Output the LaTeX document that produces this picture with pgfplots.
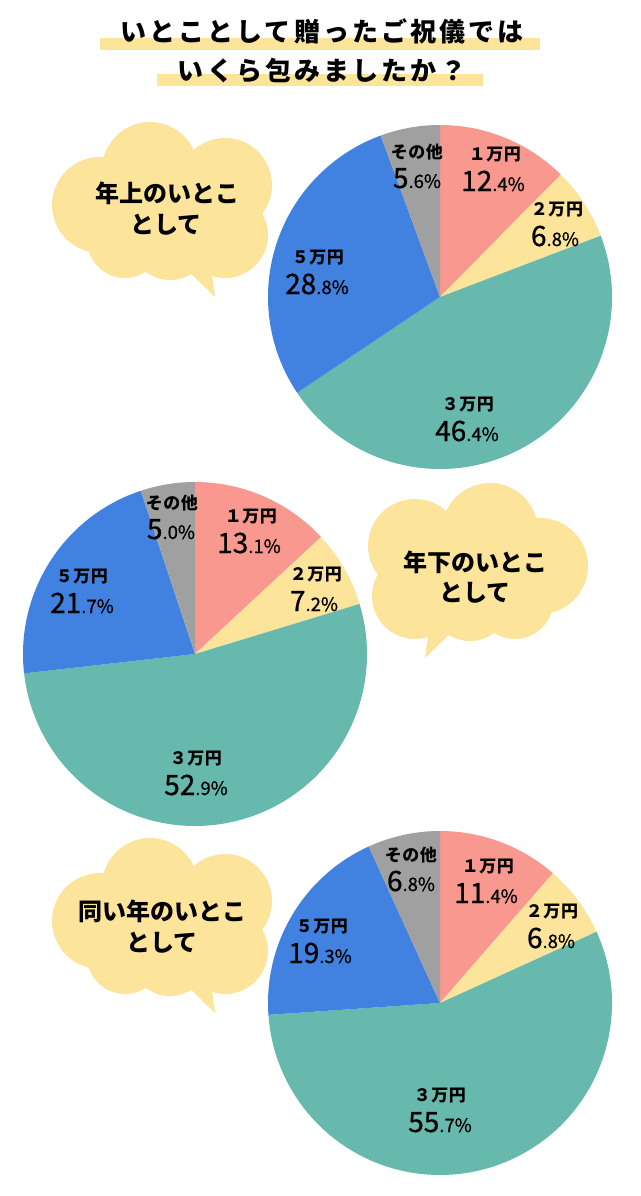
\documentclass[border=0pt]{standalone}
\usepackage{fontspec}
\setmainfont{Noto Sans CJK JP}
\newfontfamily\titlefont[LetterSpace=12]{Noto Sans CJK JP}
\newfontfamily\labfont[LetterSpace=3]{Noto Sans CJK JP}
\newfontfamily\numfont[FakeBold=0.8]{Noto Sans CJK JP}
\usepackage{pgfplots}
\usepackage{pgfplotstable}
\pgfplotsset{compat=1.18}

\definecolor{pc0}{RGB}{248,152,143}% 1万円
\definecolor{pc1}{RGB}{252,229,155}% 2万円
\definecolor{pc2}{RGB}{103,185,174}% 3万円
\definecolor{pc3}{RGB}{65,130,224}%  5万円
\definecolor{pc4}{RGB}{160,160,160}% その他
\definecolor{cloudc}{RGB}{252,229,155}

% shares in order: 1万円, 2万円, 3万円, 5万円, その他
\pgfplotstableread{
yen pct
1 12.4
2 6.8
3 46.4
5 28.8
0 5.6
}\pieA
\pgfplotstableread{
yen pct
1 13.1
2 7.2
3 52.9
5 21.7
0 5.0
}\pieB
\pgfplotstableread{
yen pct
1 11.4
2 6.8
3 55.7
5 19.3
0 6.8
}\pieC

% start/end angles of each wedge, clockwise from 12 o'clock
\newcommand\preppie[2]{%
  \gdef\cum{90}%
  \pgfplotstableforeachcolumnelement{pct}\of#1\as\v{%
    \pgfmathsetmacro\nxt{\cum-3.6*\v}%
    \expandafter\xdef\csname #2s\pgfplotstablerow\endcsname{\cum}%
    \expandafter\xdef\csname #2e\pgfplotstablerow\endcsname{\nxt}%
    \xdef\cum{\nxt}%
  }%
  \expandafter\xdef\csname #2e4\endcsname{-270}%
}
\preppie{\pieA}{A}
\preppie{\pieB}{B}
\preppie{\pieC}{C}

\newcommand\drawpie[3]{%
  \pgfplotsinvokeforeach{0,...,4}{%
    \edef\tmp{\noexpand\fill[pc##1] (axis cs:#2,#3) -- ++(\csname #1s##1\endcsname:172pt)
      arc[start angle=\csname #1s##1\endcsname, end angle=\csname #1e##1\endcsname, radius=172pt] -- cycle;}\tmp
  }%
}

% x y name valuex int dec
\newcommand\lab[6]{%
  \node[font=\labfont\bfseries\fontsize{17}{17}\selectfont] at (axis cs:#1,#2) {#3};
  \node[anchor=base, inner sep=0pt, font=\numfont\fontsize{28}{28}\selectfont] at (axis cs:#4,{#2+36})
    {#5{\fontsize{18.5}{18.5}\selectfont #6\%}};
}

% cloud centred at (#1,#2), #3 = 1 or -1 (mirror)
\newcommand\cloud[3]{%
  \fill[cloudc] (axis cs:{#1+#3*(-12)},{#2-40}) circle[radius=48pt];
  \fill[cloudc] (axis cs:{#1+#3*63},{#2-25}) circle[radius=47pt];
  \fill[cloudc] (axis cs:{#1+#3*(-62)},{#2-5}) circle[radius=48pt];
  \fill[cloudc] (axis cs:{#1+#3*(-37)},{#2+30}) circle[radius=38pt];
  \fill[cloudc] (axis cs:{#1+#3*8},{#2+30}) circle[radius=40pt];
  \fill[cloudc] (axis cs:{#1+#3*63},{#2+25}) circle[radius=43pt];
  \fill[cloudc] (axis cs:#1,#2) circle[radius=55pt];
  \fill[cloudc] (axis cs:{#1+#3*20},{#2+55}) -- (axis cs:{#1+#3*53},{#2+87})
    -- (axis cs:{#1+#3*48},{#2+50}) -- cycle;
}

\begin{document}
\begin{tikzpicture}
\begin{axis}[
  width=640pt, height=1196pt, scale only axis,
  xmin=0, xmax=640, ymin=0, ymax=1196, y dir=reverse,
  hide axis, clip=false,
]
\path (axis cs:0,0) rectangle (axis cs:640,1196);
% title
\fill[cloudc] (axis cs:100,38) rectangle (axis cs:540,50);
\fill[cloudc] (axis cs:157,74) rectangle (axis cs:483,86);
\node[font=\titlefont\bfseries\fontsize{26}{26}\selectfont] at (axis cs:322,31) {いとことして贈ったご祝儀では};
\node[font=\titlefont\bfseries\fontsize{26}{26}\selectfont] at (axis cs:322,71) {いくら包みましたか？};

% clouds
\cloud{162}{210}{1}
\cloud{478}{571}{-1}
\cloud{162}{926}{1}
\node[font=\bfseries\fontsize{24}{24}\selectfont] at (axis cs:167,193) {年上のいとこ};
\node[font=\bfseries\fontsize{24}{24}\selectfont] at (axis cs:166,225) {として};
\node[font=\bfseries\fontsize{24}{24}\selectfont] at (axis cs:475,562) {年下のいとこ};
\node[font=\bfseries\fontsize{24}{24}\selectfont] at (axis cs:475,593) {として};
\node[font=\bfseries\fontsize{24}{24}\selectfont] at (axis cs:162,911) {同い年のいとこ};
\node[font=\bfseries\fontsize{24}{24}\selectfont] at (axis cs:162,943) {として};

% pies
\drawpie{A}{440}{297}
\drawpie{B}{195}{654}
\drawpie{C}{440}{1003}

\lab{417}{152}{その他}{417}{5}{.6}
\lab{495}{155}{１万円}{493}{12}{.4}
\lab{557}{210}{２万円}{555}{6}{.8}
\lab{318}{258}{５万円}{317}{28}{.8}
\lab{468}{405}{３万円}{467}{46}{.4}

\lab{172}{503}{その他}{171}{5}{.0}
\lab{251}{517}{１万円}{249}{13}{.1}
\lab{316}{575}{２万円}{314}{7}{.2}
\lab{82}{577}{５万円}{82}{21}{.7}
\lab{196}{759}{３万円}{196}{52}{.9}

\lab{411}{855}{その他}{411}{6}{.8}
\lab{488}{867}{１万円}{486}{11}{.4}
\lab{552}{912}{２万円}{551}{6}{.8}
\lab{322}{927}{５万円}{320}{19}{.3}
\lab{440}{1096}{３万円}{440}{55}{.7}
\end{axis}
\end{tikzpicture}
\end{document}
